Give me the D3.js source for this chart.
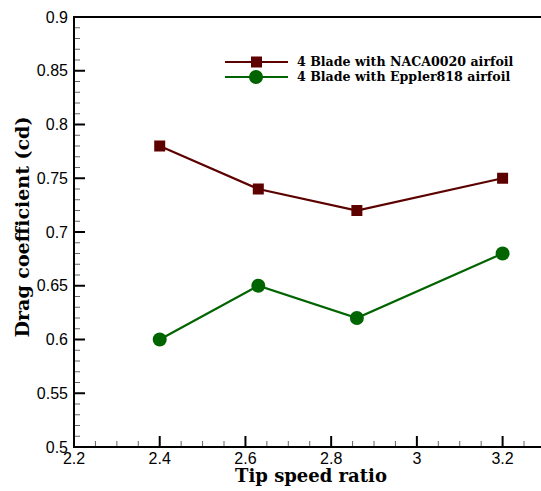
<!DOCTYPE html>
<html>
<head>
<meta charset="utf-8">
<script src="https://cdn.jsdelivr.net/npm/d3@7"></script>
<style>
body { margin: 0; background: #fff; }
</style>
</head>
<body>
<div id="chart"></div>
<script>
// Data
const tsr = [2.4, 2.63, 2.86, 3.2];
const naca0020 = [0.78, 0.74, 0.72, 0.75];
const eppler818 = [0.60, 0.65, 0.62, 0.68];
const x_ticks = [2.2, 2.4, 2.6, 2.8, 3, 3.2];
const y_ticks = [0.5, 0.55, 0.6, 0.65, 0.7, 0.75, 0.8, 0.85, 0.9];
const series_names = ['4 Blade with NACA0020 airfoil', '4 Blade with Eppler818 airfoil'];

const chart_width = 541;
const chart_height = 491;
const plot_left = 74, plot_top = 17, plot_bottom = 447;
const px_per_unit = 428.6;

const x_scale = d3.scaleLinear()
    .domain([2.2, 3.3])
    .range([plot_left, plot_left + 1.1 * px_per_unit]);

const y_scale = d3.scaleLinear()
    .domain([0.5, 0.9])
    .range([plot_bottom, plot_top]);

const svg = d3.select('#chart')
    .append('svg')
    .attr('width', chart_width)
    .attr('height', chart_height);

const x_minor_ticks = d3.range(2.25, 3.31, 0.05)
    .filter(v => Math.abs(v * 5 - Math.round(v * 5)) > 1e-6);
const y_minor_ticks = d3.range(0.51, 0.9, 0.01)
    .filter(v => Math.abs(v * 20 - Math.round(v * 20)) > 1e-6);

// Ticks (pointing inward)
svg.selectAll('line.xminor')
    .data(x_minor_ticks)
    .enter().append('line')
    .attr('class', 'xminor')
    .attr('x1', d => x_scale(d)).attr('x2', d => x_scale(d))
    .attr('y1', plot_bottom).attr('y2', plot_bottom - 6)
    .attr('stroke', '#666').attr('stroke-width', 1);

svg.selectAll('line.xmajor')
    .data(x_ticks)
    .enter().append('line')
    .attr('class', 'xmajor')
    .attr('x1', d => x_scale(d)).attr('x2', d => x_scale(d))
    .attr('y1', plot_bottom).attr('y2', plot_bottom - 11)
    .attr('stroke', '#000').attr('stroke-width', 2);

svg.selectAll('line.yminor')
    .data(y_minor_ticks)
    .enter().append('line')
    .attr('class', 'yminor')
    .attr('x1', plot_left).attr('x2', plot_left + 6)
    .attr('y1', d => y_scale(d)).attr('y2', d => y_scale(d))
    .attr('stroke', '#666').attr('stroke-width', 1);

svg.selectAll('line.ymajor')
    .data(y_ticks)
    .enter().append('line')
    .attr('class', 'ymajor')
    .attr('x1', plot_left).attr('x2', plot_left + 11)
    .attr('y1', d => y_scale(d)).attr('y2', d => y_scale(d))
    .attr('stroke', '#000').attr('stroke-width', 2);

// Tick labels
const fmt = d3.format('~g');
svg.selectAll('text.xlab')
    .data(x_ticks)
    .enter().append('text')
    .attr('class', 'xlab')
    .attr('x', d => x_scale(d))
    .attr('y', plot_bottom + 11)
    .attr('dy', '0.35em')
    .attr('text-anchor', 'middle')
    .style('font-family', '"Liberation Sans", Arial, sans-serif')
    .style('font-size', '16px')
    .text(d => fmt(d));

svg.selectAll('text.ylab')
    .data(y_ticks)
    .enter().append('text')
    .attr('class', 'ylab')
    .attr('x', plot_left - 6)
    .attr('y', d => y_scale(d))
    .attr('dy', '0.35em')
    .attr('text-anchor', 'end')
    .style('font-family', '"Liberation Sans", Arial, sans-serif')
    .style('font-size', '16px')
    .text(d => fmt(d));

// Frame
svg.append('path')
    .attr('d', `M${x_scale.range()[1]},${plot_top}H${plot_left}V${plot_bottom}H${x_scale.range()[1]}`)
    .attr('fill', 'none')
    .attr('stroke', '#000')
    .attr('stroke-width', 2);

// Axis titles
svg.append('text')
    .attr('x', 311)
    .attr('y', 482)
    .attr('text-anchor', 'middle')
    .style('font-family', '"DejaVu Serif", serif')
    .style('font-weight', 'bold')
    .style('font-size', '18px')
    .text('Tip speed ratio');

svg.append('text')
    .attr('transform', 'translate(29,227) rotate(-90)')
    .attr('text-anchor', 'middle')
    .style('font-family', '"DejaVu Serif", serif')
    .style('font-weight', 'bold')
    .style('font-size', '19px')
    .text('Drag coefficient (cd)');

// Lines
const colors = ['#5c0000', '#006400'];
const series = [naca0020, eppler818];

const line = d3.line()
    .x((d, i) => x_scale(tsr[i]))
    .y(d => y_scale(d));

series.forEach((s, k) => {
    svg.append('path')
        .datum(s)
        .attr('fill', 'none')
        .attr('stroke', colors[k])
        .attr('stroke-width', 2.2)
        .attr('d', line);
});

svg.selectAll('rect.naca')
    .data(naca0020)
    .enter()
    .append('rect')
    .attr('class', 'naca')
    .attr('x', (d, i) => x_scale(tsr[i]) - 5.5)
    .attr('y', d => y_scale(d) - 5.5)
    .attr('width', 11)
    .attr('height', 11)
    .attr('fill', colors[0]);

svg.selectAll('circle.eppler')
    .data(eppler818)
    .enter()
    .append('circle')
    .attr('class', 'eppler')
    .attr('cx', (d, i) => x_scale(tsr[i]))
    .attr('cy', d => y_scale(d))
    .attr('r', 7)
    .attr('fill', colors[1]);

// Legend
const legend = svg.append('g');
series_names.forEach((name, k) => {
    const ly = 62 + k * 15;
    legend.append('line')
        .attr('x1', 225).attr('x2', 288)
        .attr('y1', ly).attr('y2', ly)
        .attr('stroke', colors[k])
        .attr('stroke-width', 2.2);
    if (k === 0) {
        legend.append('rect')
            .attr('x', 251).attr('y', ly - 5.5)
            .attr('width', 11).attr('height', 11)
            .attr('fill', colors[k]);
    } else {
        legend.append('circle')
            .attr('cx', 256).attr('cy', ly)
            .attr('r', 7)
            .attr('fill', colors[k]);
    }
    legend.append('text')
        .attr('x', 297)
        .attr('y', ly)
        .attr('dy', '0.35em')
        .style('font-family', '"DejaVu Serif", serif')
        .style('font-weight', 'bold')
        .style('font-size', '12.6px')
        .text(name);
});
</script>
</body>
</html>
